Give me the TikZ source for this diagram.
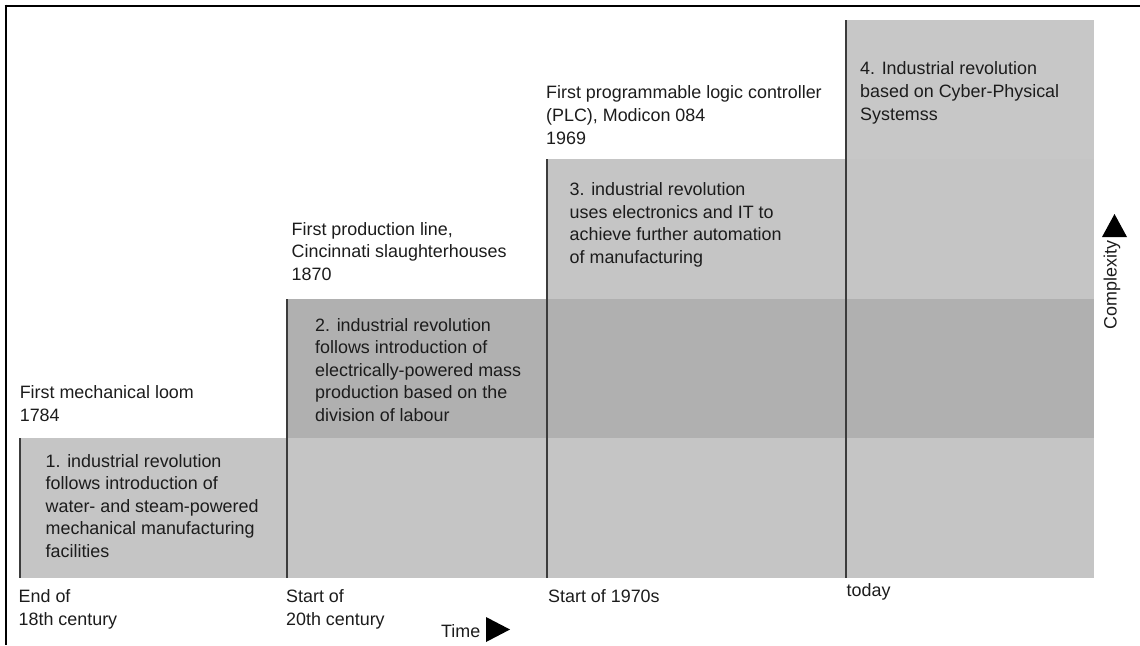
\documentclass[tikz,border=0pt]{standalone}
\usepackage{fontspec}
\setmainfont{Liberation Sans}
\definecolor{lightband}{RGB}{197,197,197}
\definecolor{toprow}{RGB}{199,199,199}
\definecolor{darkband}{RGB}{176,176,176}
\definecolor{divider}{RGB}{60,60,60}
\definecolor{txt}{RGB}{28,28,28}
\begin{document}
\begin{tikzpicture}[x=1pt,y=-1pt,
  lbl/.style={anchor=north west,inner sep=0pt,align=left,text=txt,
    font=\fontsize{17.9}{22.6}\selectfont},
  lblwide/.style={lbl,font=\fontsize{17.9}{23}\selectfont},
  divline/.style={draw=divider,line width=1.8pt},
  frameline/.style={draw=black,line width=2.6pt}]
\useasboundingbox (0,0) rectangle (1140,645);

% stepped bands, one per revolution
\fill[lightband] (20,438) rectangle (1094,578);
\fill[darkband]  (287,299) rectangle (1094,438);
\fill[lightband] (547,159) rectangle (1094,299);
\fill[toprow]    (846,20) rectangle (1094,159);

% era dividers
\draw[divline] (20,438) -- (20,578);
\draw[divline] (287,299) -- (287,578);
\draw[divline] (547,159) -- (547,578);
\draw[divline] (846,20) -- (846,578);

% frame edges
\draw[frameline] (6,4.7) -- (6,645);
\draw[frameline] (4.7,6) -- (1140,6);

% milestones above each step
\node[lbl] (loom) at (19.6,385.7) {First mechanical loom\\1784};
\node[lbl] (line) at (291.5,222.2) {First production line,\\Cincinnati slaughterhouses\\1870};
\node[lblwide] (plc)  at (546,85.6) {First programmable logic controller\\(PLC), Modicon 084\\1969};

% revolution descriptions
\node[lbl] (rev1) at (45.5,453.9) {1. industrial revolution\\follows introduction of\\water- and steam-powered\\mechanical manufacturing\\facilities};
\node[lbl] (rev2) at (315,317.9) {2. industrial revolution\\follows introduction of\\electrically-powered mass\\production based on the\\division of labour};
\node[lbl] (rev3) at (569.5,182.6) {3. industrial revolution\\uses electronics and IT to\\achieve further automation\\of manufacturing};
\node[lblwide] (rev4) at (860,61.6) {4. Industrial revolution\\based on Cyber-Physical\\Systemss};

% time axis labels
\node[lbl] (t1) at (18.5,589.5) {End of\\18th century};
\node[lbl] (t2) at (286,589.5) {Start of\\20th century};
\node[lbl] (t3) at (548,589.5) {Start of 1970s};
\node[lbl] (t4) at (846.5,583.5) {today};

% axis captions with arrowheads
\node[lbl] (time) at (441,623.9) {Time};
\fill[black] (486,617) -- (510,629.5) -- (486,642) -- cycle;
\node[inner sep=0pt,text=txt,rotate=90,font=\fontsize{17.9}{21}\selectfont]
  (cplx) at (1112,285) {Complexity};
\fill[black] (1102,237) -- (1114.5,214) -- (1127,237) -- cycle;
\end{tikzpicture}
\end{document}
